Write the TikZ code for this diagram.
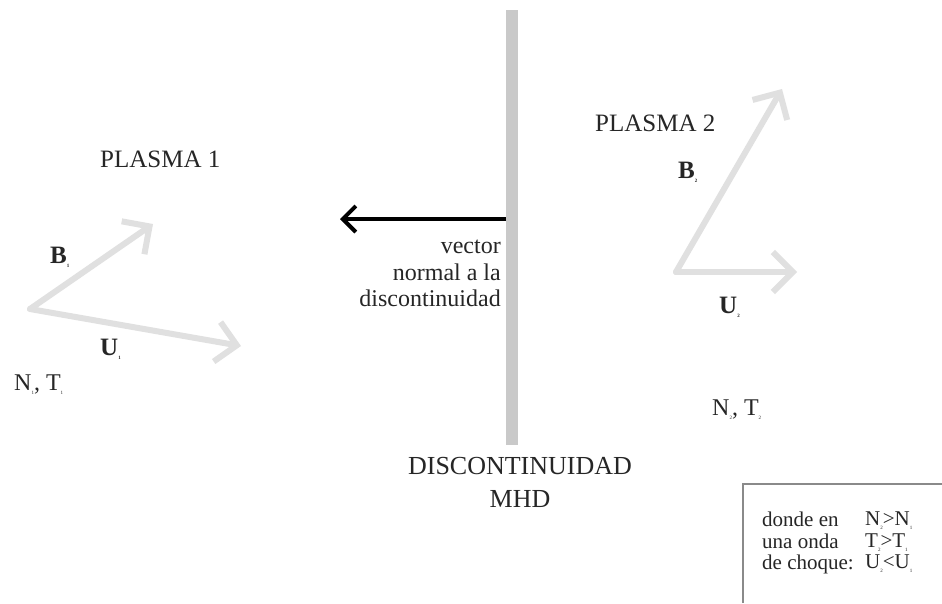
\documentclass[tikz,border=0pt]{standalone}
\usepackage{fontspec}
\setmainfont{Liberation Serif}
\usetikzlibrary{arrows.meta}
\definecolor{txt}{HTML}{262626}
\definecolor{vecgray}{HTML}{E0E0E0}
\definecolor{bargray}{HTML}{C9C9C9}
\definecolor{boxgray}{HTML}{8A8A8A}
\newcommand{\sbx}[1]{\raisebox{-4pt}{\fontsize{5}{5}\selectfont #1}}
\tikzset{
  lbl/.style={text=txt, inner sep=0pt, font=\fontsize{25}{28}\selectfont},
  vlbl/.style={text=txt, inner sep=0pt, font=\fontsize{25}{28}\selectfont\bfseries},
  boxtxt/.style={text=txt, inner sep=0pt, align=left, font=\fontsize{21}{21.5}\selectfont},
  vecarrow/.style={draw=vecgray, line width=6pt, line cap=round,
     -{Straight Barb[length=20pt,width=40pt,line width=6pt]}},
  normarrow/.style={draw=black, line width=4pt,
     -{Straight Barb[length=13pt,width=26pt,line width=4pt]}}
}
\begin{document}
\begin{tikzpicture}[x=1pt,y=-1pt]
\useasboundingbox[fill=white] (0,0) rectangle (942,603);
% discontinuity bar
\fill[bargray] (506,10) rectangle (518,445);
\coordinate (nstart) at (506,219);
\coordinate (nend) at (340,219);
\draw[normarrow] (nstart) -- (nend);
\node[lbl, align=right, anchor=north east, font=\fontsize{24}{26.5}\selectfont] (vn) at (501,240) {vector\\normal a la\\discontinuidad};
% titles
\node[lbl, anchor=base west] (p1) at (100,167) {PLASMA 1};
\node[lbl, anchor=base west] (p2) at (595,131) {PLASMA 2};
\node[lbl, align=center, anchor=north, font=\fontsize{26}{33}\selectfont] (disc) at (520,457) {DISCONTINUIDAD\\MHD};
% plasma 1 vectors
\coordinate (o1) at (30,309);
\coordinate (b1) at (153,224);
\coordinate (u1) at (241,346);
\draw[vecarrow] (o1) -- (b1);
\draw[vecarrow] (o1) -- (u1);
\node[vlbl, anchor=base west] (B1) at (50,263) {B\sbx{1}};
\node[vlbl, anchor=base west] (U1) at (100,355) {U\sbx{1}};
\node[lbl, anchor=base west, font=\fontsize{24}{28}\selectfont] (NT1) at (14,390) {N\sbx{1}, T\sbx{1}};
% plasma 2 vectors
\coordinate (o2) at (676,272);
\coordinate (b2) at (782,89);
\coordinate (u2) at (797,272);
\draw[vecarrow] (o2) -- (b2);
\draw[vecarrow] (o2) -- (u2);
\node[vlbl, anchor=base west] (B2) at (678,178) {B\sbx{2}};
\node[vlbl, anchor=base west] (U2) at (719,313) {U\sbx{2}};
\node[lbl, anchor=base west, font=\fontsize{24}{28}\selectfont] (NT2) at (712,415) {N\sbx{2}, T\sbx{2}};
% legend box
\draw[boxgray, line width=2pt] (743,603) |- (942,484);
\node[boxtxt, anchor=north west] (bx1) at (762,512) {donde en\\una onda\\de choque:};
\node[boxtxt, anchor=north west] (bx2) at (865,512) {N\sbx{2}>N\sbx{1}\\T\sbx{2}>T\sbx{1}\\U\sbx{2}<U\sbx{1}};
\end{tikzpicture}
\end{document}
